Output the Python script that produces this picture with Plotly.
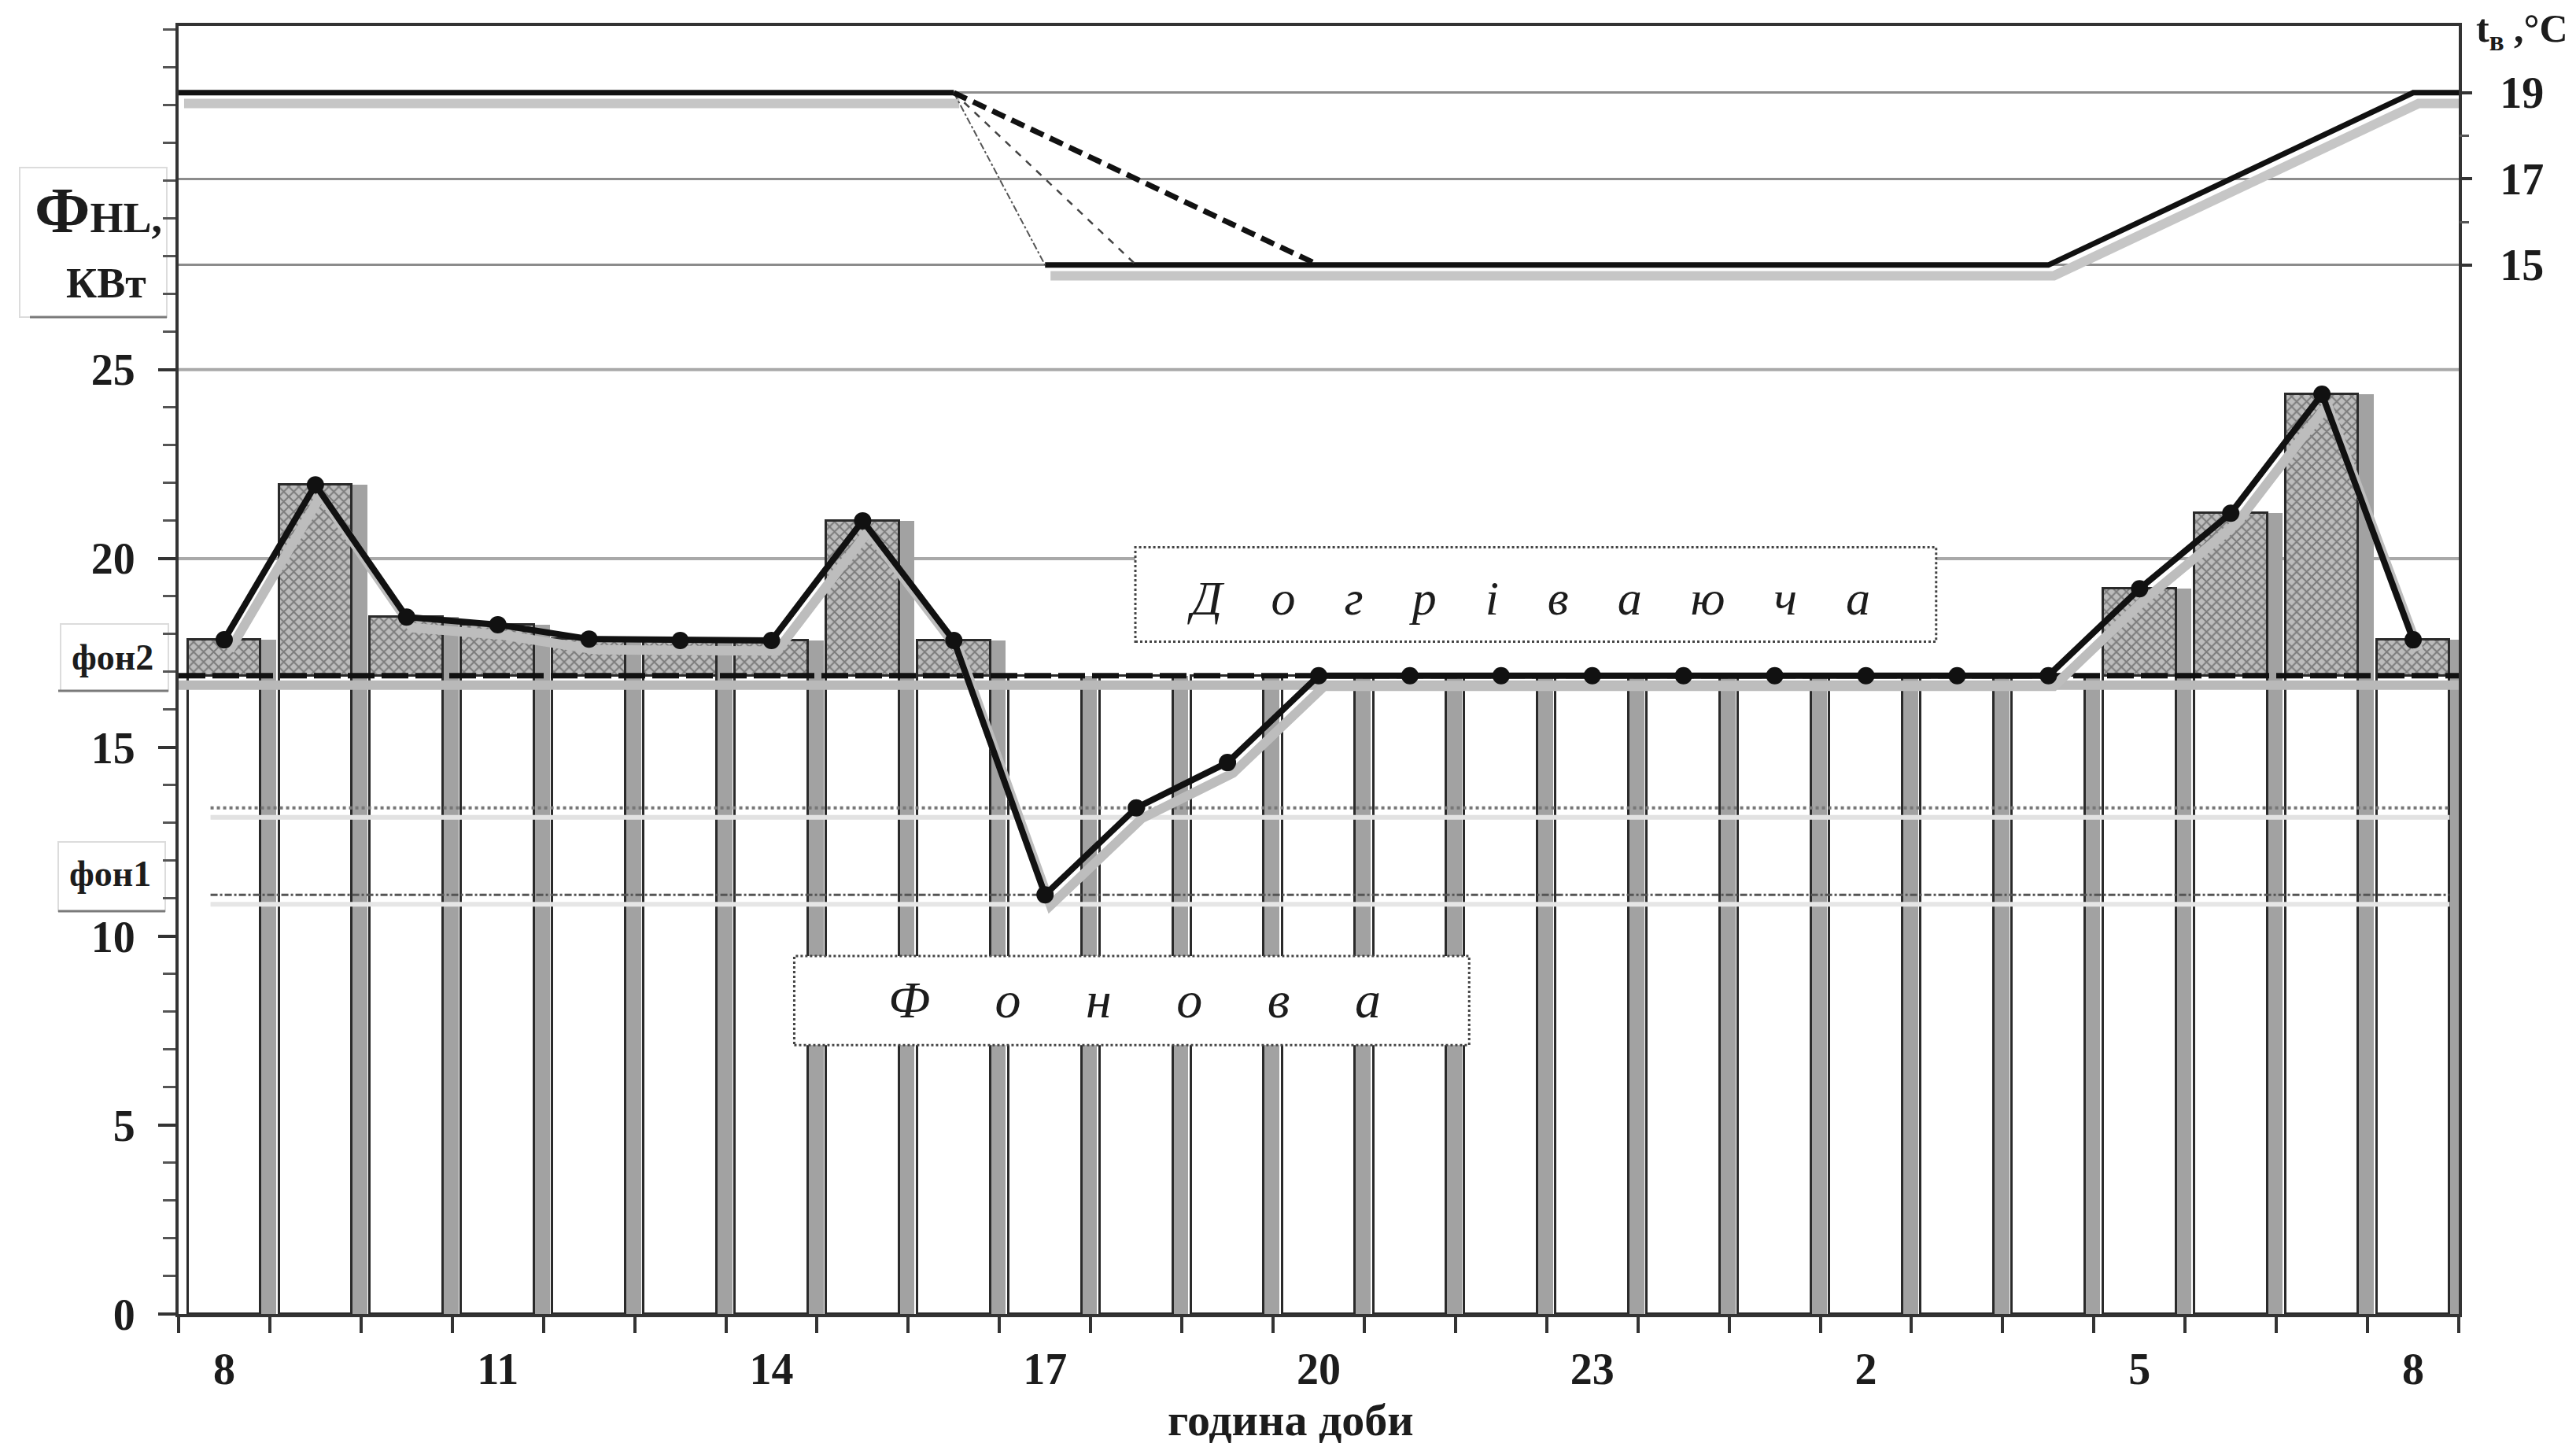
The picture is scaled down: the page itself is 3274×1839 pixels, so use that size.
import numpy as np
import plotly.graph_objects as go

# ---------------- data ----------------
hours = list(range(25))                      # 8:00 (day 1) ... 8:00 (day 2)
hour_tick_pos = [0, 3, 6, 9, 12, 15, 18, 21, 24]
hour_tick_text = ['8', '11', '14', '17', '20', '23', '2', '5', '8']
day_edges = [-0.5, 24.5]
hour_bounds = [h - 0.5 for h in range(26)]

# heat load Ф_HL, kW (line with markers)
heat_load = [17.85, 21.95, 18.45, 18.25, 17.87, 17.83, 17.83, 21.0, 17.83,
             11.1, 13.4, 14.6, 16.9, 16.9, 16.9, 16.9, 16.9, 16.9, 16.9,
             16.9, 16.9, 19.2, 21.2, 24.35, 17.85]

# background (Фонова) bars, kW
fonova = [16.9, 16.9, 16.9, 16.9, 16.9, 16.9, 16.9, 16.9, 16.9, 16.9, 16.9,
          16.9, 16.9, 16.9, 16.9, 16.9, 16.9, 16.9, 16.9, 16.9, 16.9, 16.9,
          16.9, 16.9, 16.9]
# top of supplementary (Догріваюча) bars, kW
dogriv_top = [17.85, 21.95, 18.45, 18.25, 17.87, 17.83, 17.83, 21.0, 17.83,
              None, None, None, None, None, None, None, None, None, None,
              None, None, 19.2, 21.2, 24.35, 17.85]

# reference levels, kW
fon2 = 16.9
fon_mid = 13.4
fon1 = 11.1
ref_x = [-0.15, 24.4]

# indoor temperature t_в, °C
temp_day_x = [-0.5, 0, 1, 2, 3, 4, 5, 6, 7, 8]
temp_day = [19, 19, 19, 19, 19, 19, 19, 19, 19, 19]
temp_night_x = [9, 10, 11, 12, 13, 14, 15, 16, 17, 18, 19, 20, 21, 22, 23, 24, 24.5]
temp_night = [15, 15, 15, 15, 15, 15, 15, 15, 15, 15, 15, 15, 16, 17, 18, 19, 19]
# setback scenarios: drop from 19 °C at 16 h to 15 °C at 17 h / 18 h / 20 h
setback_start = (8, 19)
setback_end_x = [9, 10, 12]
setback_end_t = [15, 15, 15]

kw_grid = [20, 25]
kw_ticks = [0, 5, 10, 15, 20, 25]
t_ticks = [15, 17, 19]
t_minor = [16, 18]

# ---------------- geometry helpers ----------------
W, H = 3274, 1839
L, R, T, B = 227, 149, 33, 169
Y_MAX = 34.1
T_RANGE = [-9.35, 20.55]
BAR_W = 0.8
SH_DX = 0.06
SH_DKW = 0.28
SH_DT = 0.25

FONT = 'Liberation Serif'
INK = '#1c1c1c'

fig = go.Figure()

hrs = np.array(hours, dtype=float)
stack_top = np.array(fonova) + np.array([0 if v is None else v - f for v, f in zip(dogriv_top, fonova)])
dogriv_inc = [None if v is None else v - f for v, f in zip(dogriv_top, fonova)]

# bar shadows
fig.add_trace(go.Bar(x=hours, y=stack_top, width=BAR_W, offset=-BAR_W / 2 + 0.17,
                     marker=dict(color='#a2a2a2', line=dict(width=0)),
                     hoverinfo='skip', showlegend=False))
# background bars
fig.add_trace(go.Bar(x=hours, y=fonova, width=BAR_W, offset=-BAR_W / 2,
                     marker=dict(color='white', line=dict(color='#2a2a2a', width=3)),
                     name='Фонова', showlegend=False))
# supplementary bars
fig.add_trace(go.Bar(x=hours, y=dogriv_inc, base=fonova, width=BAR_W, offset=-BAR_W / 2,
                     marker=dict(color='#b8b8b8',
                                 line=dict(color='#2a2a2a', width=3),
                                 pattern=dict(shape='x', fgcolor='#3a3a3a', bgcolor='#bcbcbc',
                                              size=9, solidity=0.4)),
                     name='Догріваюча', showlegend=False))

# reference level lines
fig.add_trace(go.Scatter(x=day_edges, y=[fon2 - 0.25, fon2 - 0.25], mode='lines',
                         line=dict(color='#b9b9b9', width=12), hoverinfo='skip', showlegend=False))
fig.add_trace(go.Scatter(x=day_edges, y=[fon2, fon2], mode='lines',
                         line=dict(color='#111111', width=7, dash='34px,9px'),
                         name='фон2', showlegend=False))
fig.add_trace(go.Scatter(x=ref_x, y=[fon_mid - 0.25, fon_mid - 0.25], mode='lines',
                         line=dict(color='#e2e2e2', width=6), hoverinfo='skip', showlegend=False))
fig.add_trace(go.Scatter(x=ref_x, y=[fon_mid, fon_mid], mode='lines',
                         line=dict(color='#777777', width=4, dash='dot'),
                         showlegend=False))
fig.add_trace(go.Scatter(x=ref_x, y=[fon1 - 0.25, fon1 - 0.25], mode='lines',
                         line=dict(color='#e6e6e6', width=6), hoverinfo='skip', showlegend=False))
fig.add_trace(go.Scatter(x=ref_x, y=[fon1, fon1], mode='lines',
                         line=dict(color='#555555', width=3, dash='dashdot'),
                         name='фон1', showlegend=False))

# temperature lines (right axis)
tx = temp_day_x + [None] + temp_night_x
ty = temp_day + [None] + temp_night
tx_sh = [None if v is None else v + SH_DX for v in tx]
ty_sh = [None if v is None else v - SH_DT for v in ty]
fig.add_trace(go.Scatter(x=tx_sh, y=ty_sh, yaxis='y2', mode='lines',
                         line=dict(color='#c6c6c6', width=12), hoverinfo='skip', showlegend=False))
fig.add_trace(go.Scatter(x=tx, y=ty, yaxis='y2', mode='lines',
                         line=dict(color='#111111', width=7), name='t_в', showlegend=False))
styles = [dict(color='#555555', width=2, dash='dashdot'),
          dict(color='#444444', width=2.5, dash='dash'),
          dict(color='#111111', width=7, dash='18px,9px')]
for ex, et, st in zip(setback_end_x, setback_end_t, styles):
    fig.add_trace(go.Scatter(x=[setback_start[0], ex], y=[setback_start[1], et], yaxis='y2',
                             mode='lines', line=st, showlegend=False))

# heat load line
fig.add_trace(go.Scatter(x=list(hrs + SH_DX), y=list(np.array(heat_load) - SH_DKW), mode='lines',
                         line=dict(color='#bdbdbd', width=12), hoverinfo='skip', showlegend=False))
fig.add_trace(go.Scatter(x=hours, y=heat_load, mode='lines+markers',
                         line=dict(color='#111111', width=8),
                         marker=dict(size=22, color='#111111'),
                         name='Ф_HL', showlegend=False))

# ---------------- shapes ----------------
shapes = []
for g in kw_grid:
    shapes.append(dict(type='line', xref='paper', x0=0, x1=1, yref='y', y0=g, y1=g,
                       line=dict(color='#a9a9a9', width=4), layer='below'))


def xp(px):
    return (px - L) / (W - L - R)


def yp(py):
    return (H - B - py) / (H - B - T)


# label boxes on the left
for (x0, x1, y0, y1, ux0) in [(25, 212, 213, 403, 38), (77, 214, 793, 878, 74), (74, 210, 1070, 1158, 74)]:
    shapes.append(dict(type='rect', xref='paper', yref='paper', x0=xp(x0), x1=xp(x1),
                       y0=yp(y1), y1=yp(y0), line=dict(color='#dcdcdc', width=2), layer='below'))
    shapes.append(dict(type='line', xref='paper', yref='paper', x0=xp(ux0), x1=xp(x1),
                       y0=yp(y1), y1=yp(y1), line=dict(color='#7a7a7a', width=3)))

# dashed text boxes inside the plot
shapes.append(dict(type='rect', xref='x', yref='y', x0=9.99, x1=18.77, y0=17.8, y1=20.3,
                   fillcolor='white', line=dict(color='#444444', width=3, dash='dot'), layer='above'))
shapes.append(dict(type='rect', xref='x', yref='y', x0=6.25, x1=13.65, y0=7.12, y1=9.48,
                   fillcolor='white', line=dict(color='#444444', width=3, dash='dot'), layer='above'))

# ---------------- annotations ----------------
ann = []


def label(text, px, py, size, anchor='center'):
    ann.append(dict(text=text, xref='paper', yref='paper', x=xp(px), y=yp(py),
                    xanchor=anchor, yanchor='middle', showarrow=False,
                    font=dict(family=FONT, size=size, color=INK)))


label("<b><span style='font-size:82px'>Ф</span>HL,</b>", 125, 268, 54)
label('<b>КВт</b>', 135, 360, 54)
label('<b>фон2</b>', 143, 835, 46)
label('<b>фон1</b>', 140, 1110, 46)
label('<b>t<sub>в</sub> ,°C</b>', 3145, 40, 50, anchor='left')
label('<b>година доби</b>', 1640, 1804, 58)

sp = '\u2003'
ann.append(dict(text='<i>' + sp.join('Догріваюча') + '</i>', xref='x', yref='y',
                x=14.3, y=18.95, xanchor='center', yanchor='middle', showarrow=False,
                font=dict(family=FONT, size=62, color=INK)))
sp2 = '\u2003\u00a0'
ann.append(dict(text='<i>' + sp2.join('Фонова') + '</i>', xref='x', yref='y',
                x=9.98, y=8.33, xanchor='center', yanchor='middle', showarrow=False,
                font=dict(family=FONT, size=66, color=INK)))

TICKFONT = dict(family=FONT, size=56, color=INK)

fig.update_layout(
    width=W, height=H, autosize=False,
    margin=dict(l=L, r=R, t=T, b=B, pad=0),
    paper_bgcolor='white', plot_bgcolor='white',
    barmode='overlay', bargap=0,
    shapes=shapes, annotations=ann,
    font=dict(family=FONT, size=52, color=INK),
    xaxis=dict(range=day_edges, tickmode='array', tickvals=hour_tick_pos,
               ticktext=['<b>' + t + '</b>' for t in hour_tick_text],
               ticks='outside', ticklen=18, tickcolor='rgba(0,0,0,0)', ticklabelstandoff=0,
               minor=dict(tickmode='array', tickvals=hour_bounds, ticks='outside', ticklen=20,
                          tickwidth=4, tickcolor='#333333', showgrid=False),
               showline=True, linecolor='#333333', linewidth=4, mirror=True,
               showgrid=False, zeroline=False, tickfont=TICKFONT),
    yaxis=dict(range=[0, Y_MAX], tickmode='array', tickvals=kw_ticks,
               ticktext=['<b>%d</b>' % v for v in kw_ticks],
               ticks='outside', ticklen=22, tickwidth=4, tickcolor='#333333', ticklabelstandoff=18,
               minor=dict(dtick=1, tick0=0, ticks='outside', ticklen=16, tickwidth=3,
                          tickcolor='#555555', showgrid=False),
               showline=True, linecolor='#333333', linewidth=4, mirror=True,
               showgrid=False, zeroline=False, tickfont=TICKFONT),
    yaxis2=dict(range=T_RANGE, overlaying='y', side='right', tickmode='array', tickvals=t_ticks,
                ticktext=['<b>%d</b>' % v for v in t_ticks],
                ticks='outside', ticklen=16, tickwidth=4, tickcolor='#333333', ticklabelstandoff=24,
                minor=dict(tickmode='array', tickvals=t_minor, ticks='outside', ticklen=12,
                           tickwidth=3, tickcolor='#555555', showgrid=False),
                showgrid=True, gridcolor='#8c8c8c', gridwidth=3,
                showline=False, zeroline=False, tickfont=TICKFONT),
)

fig.write_html('out.html', config={'displayModeBar': False},
               post_script="document.body.style.margin='0';document.body.style.overflow='hidden';")
